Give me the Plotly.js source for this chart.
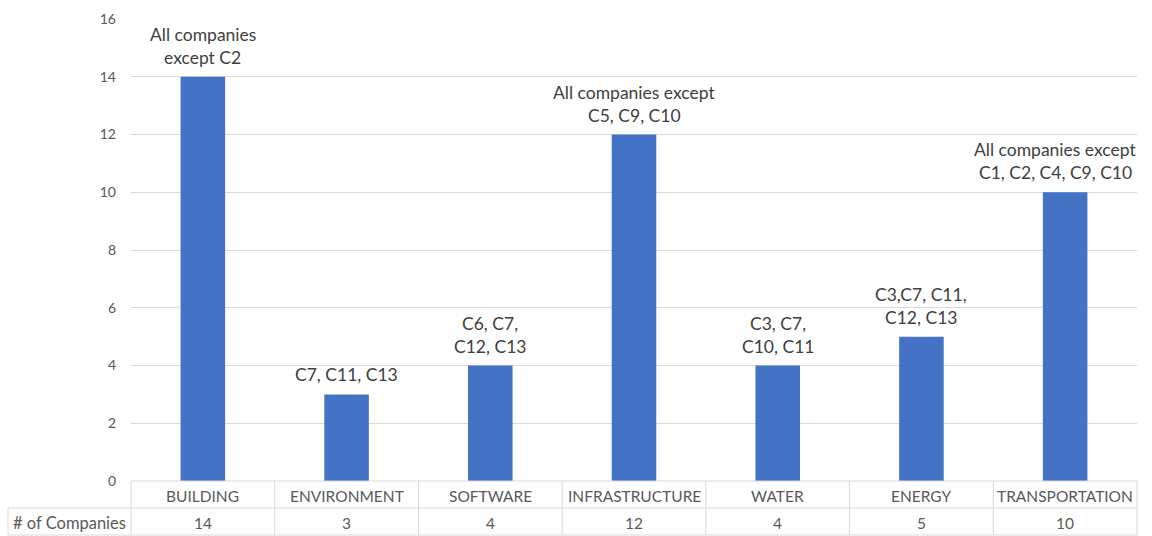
<!DOCTYPE html>
<html>
<head>
<meta charset="utf-8">
<script src="https://cdn.plot.ly/plotly-3.0.1.min.js"></script>
<style>
  html, body { margin: 0; padding: 0; background: #ffffff; }
  #chart { width: 1152px; height: 536px; }
</style>
</head>
<body>
<div id="chart"></div>
<script>
// Sectors and how many of the companies are active in each
const sectors = ["BUILDING", "ENVIRONMENT", "SOFTWARE", "INFRASTRUCTURE", "WATER", "ENERGY", "TRANSPORTATION"];
const companyCounts = [14, 3, 4, 12, 4, 5, 10];
const seriesName = "# of Companies";

// Which companies each bar covers, one entry per printed line
const companyLists = [
  ["All companies", "except C2"],
  ["C7, C11, C13"],
  ["C6, C7,", "C12, C13"],
  ["All companies except", "C5, C9, C10"],
  ["C3, C7,", "C10, C11"],
  ["C3,C7, C11,", "C12, C13"],
  ["All companies except", "C1, C2, C4, C9, C10"]
];

const yTicks = [0, 2, 4, 6, 8, 10, 12, 14, 16];

const FONT = "Lato, 'Open Sans', sans-serif";
const GRID = "#d9d9d9";
const ROW_H = 27;          // height of one data-table row in px
const PLOT_H = 536 - 19 - 55;

const annotations = [];
const shapes = [];

// Labels above each bar (bottom line nearest the bar); the last one is
// nudged left so the wide text stays inside the plot area
companyLists.forEach((lines, i) => {
  const n = lines.length;
  const nudge = i === sectors.length - 1 ? -10 : 0;
  lines.forEach((line, k) => {
    annotations.push({
      x: sectors[i], y: companyCounts[i], xref: "x", yref: "y",
      text: line, showarrow: false,
      xanchor: "center", yanchor: "middle",
      xshift: nudge,
      yshift: 19.5 + (n - 1 - k) * 23,
      font: { family: FONT, size: 17.5, color: "#404040" }
    });
  });
});

// Data table under the plot: category row and value row
const nCat = sectors.length;
sectors.forEach((s, i) => {
  annotations.push({
    x: (i + 0.5) / nCat, y: 0, xref: "paper", yref: "paper",
    text: s, showarrow: false, xanchor: "center", yanchor: "middle",
    yshift: -ROW_H / 2 - 1,
    font: { family: FONT, size: 15.5, color: "#595959" }
  });
  annotations.push({
    x: (i + 0.5) / nCat, y: 0, xref: "paper", yref: "paper",
    text: String(companyCounts[i]), showarrow: false, xanchor: "center", yanchor: "middle",
    yshift: -ROW_H * 1.5 - 1,
    font: { family: FONT, size: 15.5, color: "#595959" }
  });
});
annotations.push({
  x: 0, y: 0, xref: "paper", yref: "paper",
  text: seriesName, showarrow: false, xanchor: "right", yanchor: "middle",
  xshift: -3, yshift: -ROW_H * 1.5 - 1,
  font: { family: FONT, size: 16.5, color: "#595959" }
});

// Table grid lines (pixel offsets converted to paper units)
const py = px => -px / PLOT_H;
const x0Left = -123 / 1006;   // left edge of the series-name cell
const lineStyle = { color: GRID, width: 1 };
shapes.push({ type: "line", xref: "paper", yref: "paper", x0: 0, x1: 1, y0: 0, y1: 0, line: lineStyle });
shapes.push({ type: "line", xref: "paper", yref: "paper", x0: x0Left, x1: 1, y0: py(ROW_H), y1: py(ROW_H), line: lineStyle });
shapes.push({ type: "line", xref: "paper", yref: "paper", x0: x0Left, x1: 1, y0: py(ROW_H * 2), y1: py(ROW_H * 2), line: lineStyle });
shapes.push({ type: "line", xref: "paper", yref: "paper", x0: x0Left, x1: x0Left, y0: py(ROW_H), y1: py(ROW_H * 2), line: lineStyle });
for (let i = 0; i <= nCat; i++) {
  shapes.push({ type: "line", xref: "paper", yref: "paper", x0: i / nCat, x1: i / nCat, y0: 0, y1: py(ROW_H * 2), line: lineStyle });
}

const trace = {
  type: "bar",
  x: sectors,
  y: companyCounts,
  name: seriesName,
  marker: { color: "#4472c4" },
  width: 0.31,
  hoverinfo: "x+y"
};

const layout = {
  width: 1152, height: 536,
  margin: { l: 131, r: 15, t: 19, b: 55 },
  paper_bgcolor: "#ffffff", plot_bgcolor: "#ffffff",
  showlegend: false,
  font: { family: FONT, color: "#595959", size: 14 },
  xaxis: {
    type: "category", range: [-0.5, sectors.length - 0.5], autorange: false,
    showticklabels: false, showgrid: false, zeroline: false,
    showline: false, ticks: "", fixedrange: true
  },
  yaxis: {
    range: [0, 16], autorange: false, tickvals: yTicks, ticktext: yTicks.map(String),
    showgrid: true, gridcolor: GRID, gridwidth: 1,
    zeroline: false, showline: false, ticks: "",
    ticklabelstandoff: 14,
    tickfont: { family: FONT, size: 14, color: "#595959" },
    fixedrange: true
  },
  annotations: annotations,
  shapes: shapes
};

Plotly.newPlot("chart", [trace], layout, { displayModeBar: false, staticPlot: true });
</script>
</body>
</html>
